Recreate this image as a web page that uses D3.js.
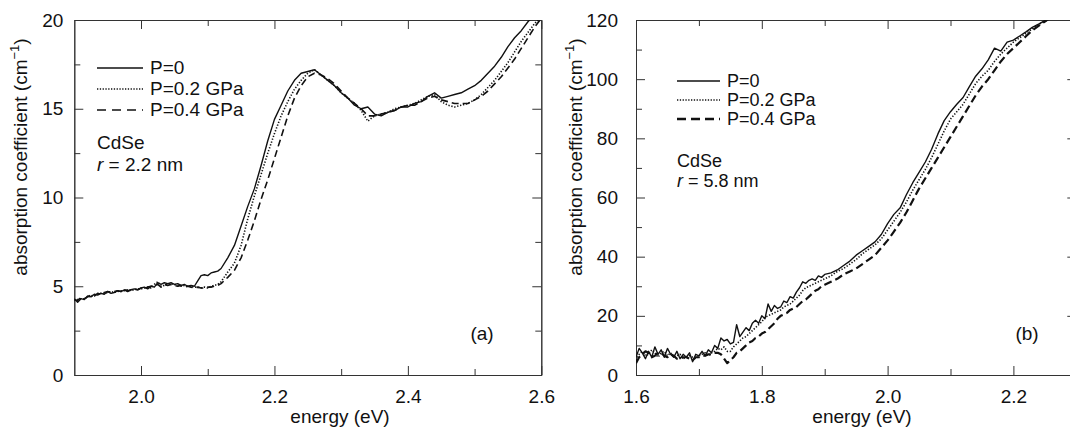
<!DOCTYPE html>
<html><head><meta charset="utf-8">
<script src="https://cdn.jsdelivr.net/npm/d3@7/dist/d3.min.js"></script>
<style>
body{margin:0;background:#fff}
text{font-family:"Liberation Sans",Arial,Helvetica,sans-serif;fill:#111}
</style>
</head><body>
<svg id="c" width="1070" height="430"></svg>
<script>
// ---------- Panel (a): CdSe r = 2.2 nm ----------
const energyA = [1.900,1.905,1.910,1.915,1.920,1.925,1.930,1.935,1.940,1.945,1.950,1.955,1.960,1.965,1.970,1.975,1.980,1.985,1.990,1.995,
2.000,2.005,2.010,2.015,2.020,2.025,2.030,2.035,2.040,2.045,2.050,2.055,2.060,2.065,2.070,2.075,2.080,2.085,2.090,2.095,
2.100,2.105,2.110,2.115,2.120,
2.13,2.14,2.15,2.16,2.17,2.18,2.19,2.20,2.21,2.22,2.23,2.24,2.25,2.26,2.27,2.28,2.29,2.30,2.31,2.32,
2.33,2.34,2.35,2.36,2.37,2.38,2.39,2.40,2.41,2.42,2.43,2.44,2.45,2.46,2.47,2.48,2.49,2.50,2.51,2.52,
2.53,2.54,2.55,2.56,2.57,2.58,2.59,2.60];
const absA_P0 = [4.3,4.1,4.3,4.25,4.45,4.4,4.55,4.5,4.6,4.55,4.7,4.6,4.65,4.75,4.7,4.8,4.7,4.8,4.85,4.8,
4.9,4.95,4.85,5.0,4.95,5.2,5.1,5.2,5.15,5.2,5.1,5.15,5.05,5.1,5.0,5.05,5.0,5.3,5.6,5.65,
5.6,5.75,5.8,5.85,6.0,
6.6,7.3,8.4,9.5,10.5,11.8,13.2,14.4,15.2,16.0,16.6,17.0,17.1,17.2,16.9,16.6,16.3,15.9,15.6,15.2,
15.0,15.1,14.7,14.6,14.8,14.9,15.1,15.1,15.3,15.4,15.7,15.9,15.6,15.7,15.8,15.9,16.1,16.3,16.6,17.0,
17.4,17.9,18.5,19.0,19.4,19.9,20.3,20.7];
const absA_P02 = [4.2,4.25,4.3,4.3,4.4,4.45,4.5,4.55,4.6,4.6,4.65,4.7,4.65,4.7,4.75,4.75,4.8,4.75,4.8,4.85,
4.85,4.9,4.95,4.9,5.1,5.25,5.0,5.05,5.1,5.15,5.1,5.05,5.0,5.05,5.0,5.0,4.95,4.95,4.9,4.95,
4.9,5.0,5.05,5.1,5.25,
5.8,6.3,7.3,8.8,10.1,11.3,12.5,13.6,14.6,15.4,16.1,16.6,17.0,17.2,16.9,16.6,16.3,15.9,15.6,15.3,
14.9,14.3,14.6,14.7,14.8,15.0,15.1,15.2,15.3,15.5,15.7,15.8,15.4,15.2,15.1,15.2,15.3,15.5,15.8,16.2,
16.6,17.1,17.6,18.2,18.8,19.3,19.8,20.2];
const absA_P04 = [4.25,4.2,4.35,4.3,4.4,4.5,4.45,4.6,4.55,4.65,4.7,4.65,4.7,4.75,4.7,4.8,4.75,4.8,4.85,4.8,
4.9,4.85,4.95,5.0,5.05,5.1,4.95,5.1,5.05,5.1,5.05,5.0,5.05,4.95,5.0,4.95,4.9,4.95,4.9,4.9,
4.95,4.95,5.0,5.05,5.15,
5.5,5.9,6.6,7.6,8.7,9.9,11.0,12.2,13.4,14.6,15.6,16.3,16.8,17.0,16.9,16.7,16.4,16.0,15.6,15.3,
15.0,14.6,14.6,14.7,14.8,14.9,15.1,15.2,15.2,15.4,15.6,15.7,15.5,15.4,15.3,15.3,15.3,15.5,15.7,16.0,
16.4,16.8,17.3,17.8,18.4,19.0,19.6,20.1];
const xTicksA = [2.0,2.2,2.4,2.6];
const xMinorA = [2.1,2.3,2.5];
const yTicksA = [0,5,10,15,20];
const yMinorA = [2.5,7.5,12.5,17.5];

// ---------- Panel (b): CdSe r = 5.8 nm ----------
const energyB = [1.600,1.605,1.610,1.615,1.620,1.625,1.630,1.635,1.640,1.645,1.650,1.655,1.660,1.665,1.670,1.675,1.680,1.685,1.690,1.695,
1.700,1.705,1.710,1.715,1.720,1.725,1.730,1.735,1.740,1.745,1.750,1.755,1.760,1.765,1.770,1.775,1.780,1.785,1.790,1.795,
1.800,1.805,1.810,1.815,1.820,1.825,1.830,1.835,1.840,1.845,1.850,1.855,1.860,1.865,1.870,1.875,1.880,1.885,1.890,1.895,
1.900,
1.91,1.92,1.93,1.94,1.95,1.96,1.97,1.98,1.99,2.00,2.01,2.02,2.03,2.04,2.05,2.06,2.07,2.08,2.09,2.10,
2.11,2.12,2.13,2.14,2.15,2.16,2.17,2.18,2.19,2.20,2.21,2.22,2.23,2.24,2.25,2.26,2.27];
const absB_P0 = [6,9,7.5,5.5,8,6,9.5,7,8.5,6,9,7,6,8,5.5,7,6,7.5,4.5,7,
6.5,8,6.5,8.5,7.5,10,9,12.5,11.5,12,10.5,11,17,13,14.5,16,15,17.5,18.5,17.5,
20,19,24,21.5,23.5,22.5,23,25,24.5,26.5,26,28,29.5,31.5,31,32,32.5,32,33.5,33,
34,
34.5,35.5,37,38.5,40.5,42,43.5,45,47.5,51.2,54.3,56.5,61,65,68.5,72,76.3,81.5,86,89,
91.5,93.8,97.5,101,103.5,106.5,110.5,109.5,112.5,113.2,114.6,116,117.5,118.6,119.8,121,122.5];
const absB_P02 = [5,7,8,6.5,7,8.5,7.5,6,7.5,8,6.5,7.5,6,6.5,7,5.5,6,6.5,6,5.5,
6.5,7,7.5,6.5,7.5,8,9,8.5,9.5,8,8,9.5,10.5,11.5,12.5,13,14,15,16,17,
18,19.5,20,20.5,21,21.5,22,23,23.5,24,25,26,27,28.5,29.5,30,30.5,31,31.5,32,
32.5,
33.5,35,36,37.5,39,41,42.5,44,46,49,52,55,58.5,62.5,66,69.5,73.5,78,82.5,86.5,
89,91.5,95,98.5,101,103,106,108.5,110.5,112.5,114,115.5,117,118.5,119.5,121,122.5];
const absB_P04 = [4,6,7,8,7.5,6,6.5,7.5,7.5,6.5,6,7,6.5,5.5,5.5,6,6,5.5,5,6,
6,6.5,6.5,7,7,7.5,7.5,7,5.5,4,5,6,7.5,8,9,10,11,11.5,12.5,13,
14,14.5,15.5,16.5,17.5,19,20,20.5,21,22,22.5,23,24,25,25.5,26.5,27.5,28.5,29,30,
30.5,
31.5,32.5,34,35,36,37.5,39,40.5,43,45.5,48.5,51.5,55,59,63,66.5,70,73.5,77,80.5,
84,87.5,91,94.5,97.5,100,103,106,108.5,110.5,112.5,114.5,116.5,118,119.5,121,122.5];
const xTicksB = [1.6,1.8,2.0,2.2];
const xMinorB = [1.7,1.9,2.1];
const yTicksB = [0,20,40,60,80,100,120];
const yMinorB = [10,30,50,70,90,110];

const seriesNames = ["P=0","P=0.2 GPa","P=0.4 GPa"];

const svg = d3.select("#c");
const fmt1 = d3.format(".1f");

function panel(o) {
  const x = d3.scaleLinear().domain(o.xDomain).range([o.left, o.right]);
  const y = d3.scaleLinear().domain(o.yDomain).range([o.bottom, o.top]);
  const g = svg.append("g");
  const axStyle = sel => {
    sel.select(".domain").attr("stroke","#333").attr("stroke-width",1);
    sel.selectAll(".tick line").attr("stroke","#333").attr("stroke-width",1);
    sel.selectAll(".tick text").attr("font-size",19).attr("fill","#111")
       .attr("font-family",'"Liberation Sans",Arial,sans-serif');
  };
  g.append("g").attr("transform",`translate(0,${o.bottom})`)
    .call(d3.axisBottom(x).tickValues(o.xTicks).tickFormat(fmt1).tickSize(-9).tickSizeOuter(0).tickPadding(15)).call(axStyle);
  g.append("g").attr("transform",`translate(0,${o.bottom})`)
    .call(d3.axisBottom(x).tickValues(o.xMinor).tickFormat("").tickSize(-6).tickSizeOuter(0)).call(axStyle);
  g.append("g").attr("transform",`translate(0,${o.top})`)
    .call(d3.axisTop(x).tickValues(o.xTicks).tickFormat("").tickSize(-9).tickSizeOuter(0)).call(axStyle);
  g.append("g").attr("transform",`translate(0,${o.top})`)
    .call(d3.axisTop(x).tickValues(o.xMinor).tickFormat("").tickSize(-6).tickSizeOuter(0)).call(axStyle);
  g.append("g").attr("transform",`translate(${o.left},0)`)
    .call(d3.axisLeft(y).tickValues(o.yTicks).tickFormat(d3.format("d")).tickSize(-9).tickSizeOuter(0).tickPadding(o.ypad)).call(axStyle);
  g.append("g").attr("transform",`translate(${o.left},0)`)
    .call(d3.axisLeft(y).tickValues(o.yMinor).tickFormat("").tickSize(-6).tickSizeOuter(0)).call(axStyle);
  g.append("g").attr("transform",`translate(${o.right},0)`)
    .call(d3.axisRight(y).tickValues(o.yTicks).tickFormat("").tickSize(-9).tickSizeOuter(0)).call(axStyle);
  g.append("g").attr("transform",`translate(${o.right},0)`)
    .call(d3.axisRight(y).tickValues(o.yMinor).tickFormat("").tickSize(-6).tickSizeOuter(0)).call(axStyle);

  const clipId = "clip" + o.id;
  svg.append("clipPath").attr("id",clipId).append("rect")
    .attr("x",o.left).attr("y",o.top).attr("width",o.right-o.left).attr("height",o.bottom-o.top);
  const line = d3.line().defined(d=>d[1]!=null).x(d=>x(d[0])).y(d=>y(d[1]));
  o.series.forEach((vals,i)=>{
    const pts = o.energy.map((e,j)=>[e, vals[j]]);
    g.append("path").attr("d", line(pts)).attr("fill","none")
      .attr("clip-path",`url(#${clipId})`)
      .attr("stroke","#111").attr("stroke-width",o.styles[i].w)
      .attr("stroke-dasharray",o.styles[i].dash)
      .attr("stroke-linejoin","round");
  });

  seriesNames.forEach((name,i)=>{
    const ly = o.legY + i*o.legDy;
    g.append("line").attr("x1",o.legX).attr("x2",o.legX+o.legLen).attr("y1",ly-6).attr("y2",ly-6)
      .attr("stroke","#111").attr("stroke-width",o.legStyles[i].w).attr("stroke-dasharray",o.legStyles[i].dash);
    g.append("text").attr("x",o.legX+o.legLen+7).attr("y",ly).attr("font-size",o.legFont).text(name);
  });
  g.append("text").attr("x",o.legX).attr("y",o.cdY).attr("font-size",o.legFont).text("CdSe");
  const rt = g.append("text").attr("x",o.legX).attr("y",o.cdY+o.legDy+1).attr("font-size",o.legFont);
  rt.append("tspan").attr("font-style","italic").text("r");
  rt.append("tspan").text(" = " + o.radius);

  g.append("text").attr("x",o.tagX).attr("y",340).attr("text-anchor","middle").attr("font-size",19).text(o.tag);

  g.append("text").attr("x",o.xTitleX).attr("y",423).attr("text-anchor","middle").attr("font-size",19).text("energy (eV)");
  const yt = g.append("text").attr("transform",`translate(${o.yTitleX},157) rotate(-90)`)
    .attr("text-anchor","middle").attr("font-size",19);
  yt.append("tspan").text("absorption coefficient (cm");
  yt.append("tspan").attr("font-size",13).attr("dy",-8).text("\u22121");
  yt.append("tspan").attr("dy",8).text(")");
}

panel({id:"a", left:74.3, right:541.3, top:20, bottom:375,
  xDomain:[1.9,2.6], yDomain:[0,20], xTicks:xTicksA, xMinor:xMinorA, yTicks:yTicksA, yMinor:yMinorA, ypad:11,
  energy:energyA, series:[absA_P0,absA_P02,absA_P04],
  styles:[{w:1.4,dash:null},{w:1.6,dash:"1.3,1.7"},{w:1.6,dash:"7,4"}],
  legStyles:[{w:1.5,dash:null},{w:1.3,dash:"1.3,1.5"},{w:1.5,dash:"9,6"}],
  legX:97, legLen:46, legY:74, legDy:21, legFont:19, cdY:149, radius:"2.2 nm",
  tag:"(a)", tagX:482, xTitleX:340, yTitleX:27});

panel({id:"b", left:636, right:1076.3, top:20, bottom:375,
  xDomain:[1.6,2.3], yDomain:[0,120], xTicks:xTicksB, xMinor:xMinorB, yTicks:yTicksB, yMinor:yMinorB, ypad:18,
  energy:energyB, series:[absB_P0,absB_P02,absB_P04],
  styles:[{w:1.4,dash:null},{w:1.6,dash:"1.3,1.7"},{w:2.2,dash:"8,4"}],
  legStyles:[{w:1.5,dash:null},{w:1.3,dash:"1.3,1.5"},{w:2.6,dash:"9,5"}],
  legX:677, legLen:43, legY:87, legDy:19, legFont:18, cdY:167, radius:"5.8 nm",
  tag:"(b)", tagX:1027, xTitleX:862, yTitleX:582});
</script>
</body></html>
